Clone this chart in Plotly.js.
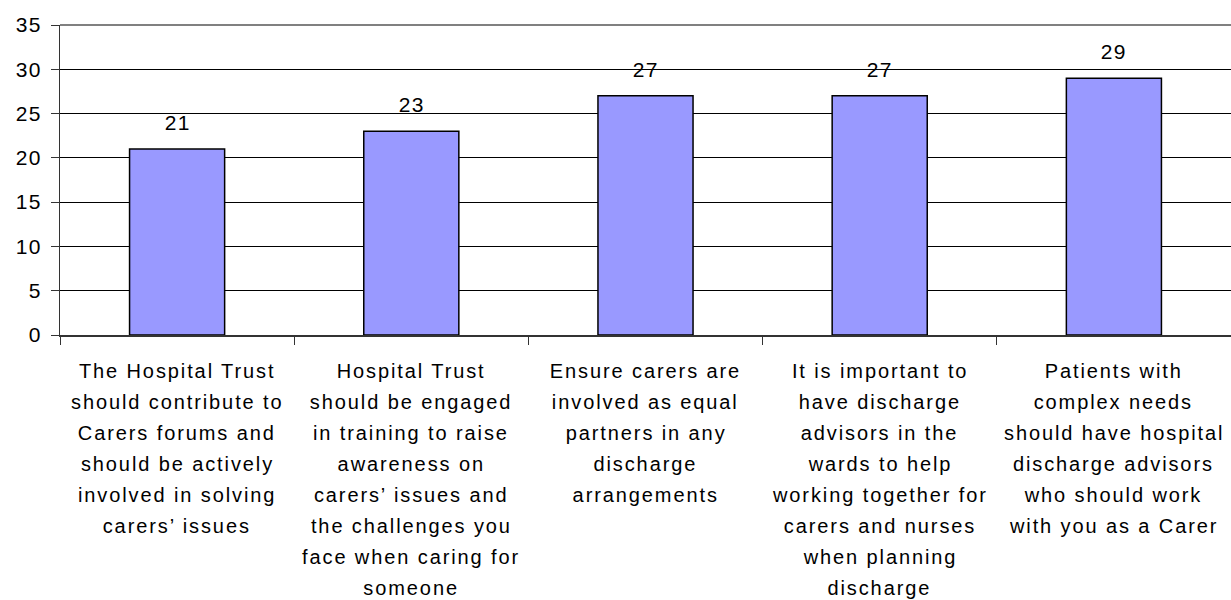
<!DOCTYPE html>
<html>
<head>
<meta charset="utf-8">
<script src="https://cdn.plot.ly/plotly-3.0.1.min.js"></script>
<style>
html, body { margin: 0; padding: 0; background: #fff; }
#chart { width: 1231px; height: 600px; }
#chart svg text { letter-spacing: 1.3px; }
#chart svg .annotation.catlabel text { letter-spacing: 1.9px; }
</style>
</head>
<body>
<div id="chart"></div>
<script>
const categoryLines = [
  ["The Hospital Trust", "should contribute to", "Carers forums and", "should be actively", "involved in solving", "carers\u2019 issues"],
  ["Hospital Trust", "should be engaged", "in training to raise", "awareness on", "carers\u2019 issues and", "the challenges you", "face when caring for", "someone"],
  ["Ensure carers are", "involved as equal", "partners in any", "discharge", "arrangements"],
  ["It is important to", "have discharge", "advisors in the", "wards to help", "working together for", "carers and nurses", "when planning", "discharge"],
  ["Patients with", "complex needs", "should have hospital", "discharge advisors", "who should work", "with you as a Carer"]
];
const values = [21, 23, 27, 27, 29];
const yTicks = [0, 5, 10, 15, 20, 25, 30, 35];

const categories = categoryLines.map(l => l.join(" "));
const font = { family: "Liberation Sans, Arial, sans-serif", size: 21, color: "#000" };
const catFont = { family: "Liberation Sans, Arial, sans-serif", size: 20, color: "#000" };
const LINE_GAP = 31;
const FIRST_SHIFT = -36;

const trace = {
  type: "bar",
  x: categories,
  y: values,
  marker: { color: "#9999FF", line: { color: "#000", width: 1.5 } },
  hoverinfo: "skip"
};

const annotations = values.map((v, i) => ({
  x: categories[i], y: v, xref: "x", yref: "y",
  text: String(v), showarrow: false,
  yanchor: "bottom", yshift: 13, font: font
}));

categoryLines.forEach((lines, i) => {
  lines.forEach((line, j) => {
    annotations.push({
      x: categories[i], y: 0, xref: "x", yref: "y",
      text: line, showarrow: false,
      xanchor: "center", yanchor: "middle",
      yshift: FIRST_SHIFT - j * LINE_GAP,
      font: catFont, name: "catlabel"
    });
  });
});

const layout = {
  width: 1231, height: 600,
  margin: { l: 60, r: 0, t: 25, b: 265 },
  paper_bgcolor: "#fff", plot_bgcolor: "#fff",
  showlegend: false,
  bargap: 0.594,
  font: font,
  xaxis: {
    type: "category",
    tickson: "boundaries",
    ticks: "outside", ticklen: 8, tickcolor: "#333", tickwidth: 1,
    showline: true, linecolor: "#333", linewidth: 1.5,
    showgrid: false, zeroline: false,
    showticklabels: false,
    fixedrange: true
  },
  yaxis: {
    range: [0, 35],
    tickvals: yTicks, ticktext: yTicks.map(String),
    ticks: "outside", ticklen: 8, tickcolor: "#333", tickwidth: 1,
    showline: true, linecolor: "#333", linewidth: 1,
    showgrid: true, gridcolor: "#000", gridwidth: 1,
    zeroline: false,
    tickfont: font, ticklabelstandoff: 5,
    fixedrange: true
  },
  shapes: [{
    type: "line", xref: "paper", yref: "paper", x0: 0, x1: 1, y0: 1, y1: 1,
    line: { color: "#808080", width: 2 }
  }],
  annotations: annotations
};

Plotly.newPlot("chart", [trace], layout, { displayModeBar: false, staticPlot: true }).then(() => {
  // tag category label annotations for letter-spacing styling
  const nums = values.length;
  document.querySelectorAll("#chart .annotation").forEach((el, k) => {
    if (k >= nums) el.classList.add("catlabel");
  });
});
</script>
</body>
</html>
